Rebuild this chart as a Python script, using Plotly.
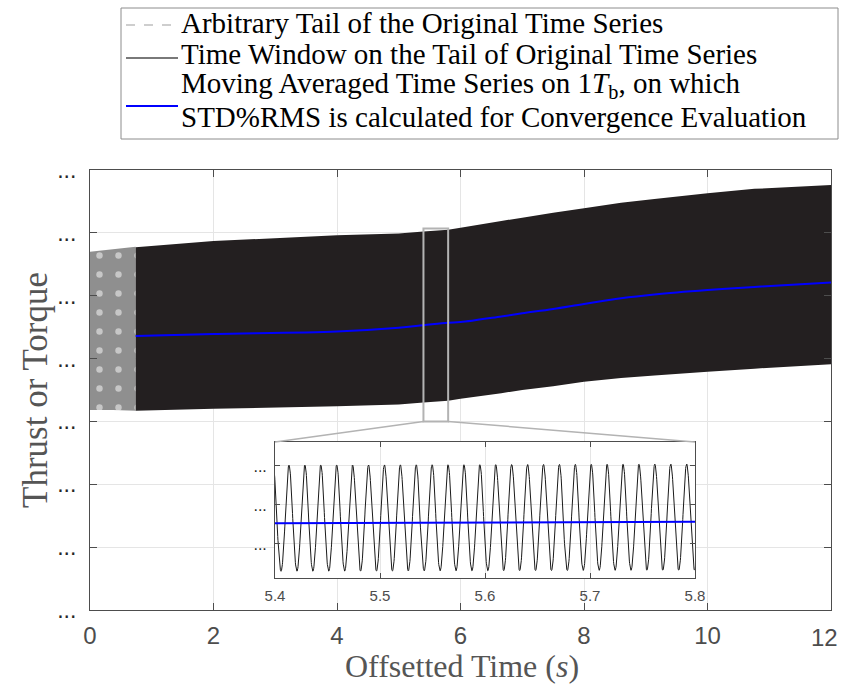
import numpy as np
import plotly.graph_objects as go

# ---- data (time in s, amplitude in axis units) ----
# arbitrary tail before the window
tail_t = [0.0, 0.37, 0.74]
tail_upper = [5.70, 5.74, 5.78]
tail_lower = [3.18, 3.18, 3.17]

# time window on the tail: envelope of the oscillation and its 1T_b moving average
win_t = [0.74, 2.0, 4.0, 5.0, 5.4, 5.8, 6.0, 6.66, 7.0, 7.5, 8.0, 8.6, 9.14, 10.0, 10.76, 12.0]
win_upper = [5.77, 5.87, 5.96, 5.99, 6.02, 6.05, 6.08, 6.19, 6.24, 6.32, 6.39, 6.48, 6.54, 6.63, 6.70, 6.76]
win_lower = [3.17, 3.20, 3.24, 3.27, 3.30, 3.33, 3.36, 3.45, 3.50, 3.56, 3.63, 3.69, 3.73, 3.79, 3.84, 3.91]
moving_avg = [4.36, 4.39, 4.43, 4.49, 4.53, 4.57, 4.58, 4.67, 4.72, 4.79, 4.87, 4.96, 5.02, 5.09, 5.14, 5.21]

# blade-passing oscillation seen in the zoomed window
blade_period = 0.01515      # s
first_peak = 5.4133         # s
zoom_t = [5.4, 5.8]
zoom_box_y = [3.0, 6.07]

x_ticks = [0, 2, 4, 6, 8, 10, 12]
x_tick_text = ["0", "2", "4", "6", "8", "10", "12"]
y_ticks = [0, 1, 2, 3, 4, 5, 6, 7]
inset_x_ticks = [5.4, 5.5, 5.6, 5.7, 5.8]
inset_y_ticks = [4, 5, 6]
dots = "..."

legend_labels = [
    "Arbitrary Tail of the Original Time Series",
    "Time Window on the Tail of Original Time Series",
    "Moving Averaged Time Series on 1<i>T</i><sub>b</sub>, on which",
    "STD%RMS is calculated for Convergence Evaluation",
]

# ---- layout geometry (pixels) ----
W, H = 841, 693
ML, MR, MT, MB = 90, 10, 170, 83
PW, PH = W - ML - MR, H - MT - MB
X_RANGE = [0, 12]
Y_RANGE = [0, 7]
INSET_Y_RANGE = [3.128, 6.615]


def px_x(p):
    return (p - ML) / PW


def px_y(p):
    return (H - MB - p) / PH


def data_to_paper(t, y):
    return ((t - X_RANGE[0]) / (X_RANGE[1] - X_RANGE[0]),
            (y - Y_RANGE[0]) / (Y_RANGE[1] - Y_RANGE[0]))


inset_dom_x = [px_x(275), px_x(695)]
inset_dom_y = [px_y(578), px_y(442)]

SERIF = "Liberation Serif"
SANS = "Liberation Sans"
AXIS_GREY = "#4d4d4d"
GRID = "#e5e5e5"
BAND = "#231f20"
BLUE = "#0000ff"
TICK_FONT = dict(family=SANS, size=24, color=AXIS_GREY)

fig = go.Figure()

# arbitrary tail: densely drawn dashed oscillation -> grey band
fig.add_trace(go.Scatter(
    x=tail_t + tail_t[::-1], y=tail_upper + tail_lower[::-1],
    fill="toself", mode="none", fillcolor="#8f8f8f",
    fillpattern=dict(shape=".", bgcolor="#8f8f8f", fgcolor="white",
                     size=19, solidity=0.09),
    showlegend=False, hoverinfo="skip", xaxis="x", yaxis="y"))

# time window: oscillation fills its envelope
fig.add_trace(go.Scatter(
    x=win_t + win_t[::-1], y=win_upper + win_lower[::-1],
    fill="toself", mode="none", fillcolor=BAND,
    showlegend=False, hoverinfo="skip", xaxis="x", yaxis="y"))

fig.add_trace(go.Scatter(
    x=win_t, y=moving_avg, mode="lines", line=dict(color=BLUE, width=2, shape="spline"),
    showlegend=False, hoverinfo="skip", xaxis="x", yaxis="y"))

# inset: the oscillation between its envelopes
t_sig = np.linspace(zoom_t[0] - 0.01, zoom_t[1] + 0.01, 2000)
up = np.interp(t_sig, win_t, win_upper)
lo = np.interp(t_sig, win_t, win_lower)
mid = np.interp(t_sig, win_t, moving_avg)
c = np.cos(2 * np.pi * (t_sig - first_peak) / blade_period)
sig = mid + (up - mid) * np.clip(c, 0, None) + (mid - lo) * np.clip(c, None, 0)

fig.add_trace(go.Scatter(
    x=t_sig, y=sig, mode="lines", line=dict(color="#1a1a1a", width=1),
    showlegend=False, hoverinfo="skip", xaxis="x2", yaxis="y2"))
fig.add_trace(go.Scatter(
    x=win_t, y=moving_avg, mode="lines", line=dict(color=BLUE, width=2, shape="spline"),
    showlegend=False, hoverinfo="skip", xaxis="x2", yaxis="y2"))

axis_common = dict(
    showline=True, linecolor=AXIS_GREY, linewidth=1, mirror="ticks",
    ticks="inside", tickcolor=AXIS_GREY, showgrid=True, gridcolor=GRID,
    gridwidth=1, zeroline=False, automargin=False)

fig.update_layout(
    width=W, height=H,
    margin=dict(l=ML, r=MR, t=MT, b=MB),
    paper_bgcolor="white", plot_bgcolor="white",
    showlegend=False,
    # the last x tick falls on the right frame; its label is placed separately
    xaxis=dict(range=X_RANGE, tickvals=x_ticks[:-1], ticktext=x_tick_text[:-1],
               ticklen=7, tickfont=TICK_FONT, ticklabelstandoff=4, **axis_common),
    yaxis=dict(range=Y_RANGE, tickvals=y_ticks, ticktext=[dots] * len(y_ticks),
               ticklen=7, tickfont=dict(family=SANS, size=23, color="#262626"),
               ticklabelstandoff=8, **axis_common),
    xaxis2=dict(domain=inset_dom_x, anchor="y2", range=zoom_t,
                tickvals=inset_x_ticks, ticktext=[f"{v:.1f}" for v in inset_x_ticks],
                ticklen=5, tickfont=dict(family=SANS, size=15, color=AXIS_GREY),
                ticklabelstandoff=4, **axis_common),
    yaxis2=dict(domain=inset_dom_y, anchor="x2", range=INSET_Y_RANGE,
                tickvals=inset_y_ticks, ticktext=[dots] * len(inset_y_ticks),
                ticklen=5, tickfont=dict(family=SANS, size=16, color="#262626"),
                ticklabelstandoff=4, **axis_common),
)

fig.add_annotation(text=x_tick_text[-1], xref="x", yref="paper",
                   x=x_ticks[-1], y=px_y(637), xanchor="right", yanchor="middle",
                   xshift=9, showarrow=False, font=TICK_FONT)

# zoom box on the main axes and its connectors to the inset
fig.add_shape(type="rect", xref="x", yref="y",
              x0=zoom_t[0], x1=zoom_t[1], y0=zoom_box_y[0], y1=zoom_box_y[1],
              line=dict(color="#b3b3b3", width=2))
bl = data_to_paper(zoom_t[0], zoom_box_y[0])
br = data_to_paper(zoom_t[1], zoom_box_y[0])
for (px0, py0), px1 in ((bl, inset_dom_x[0]), (br, inset_dom_x[1])):
    fig.add_shape(type="line", xref="paper", yref="paper",
                  x0=px0, y0=py0, x1=px1, y1=inset_dom_y[1],
                  line=dict(color="#b3b3b3", width=1.5))

# legend box
fig.add_shape(type="rect", xref="paper", yref="paper",
              x0=px_x(121), x1=px_x(838), y0=px_y(139), y1=px_y(8),
              line=dict(color="#8c8c8c", width=1), fillcolor="white")
legend_samples = [
    (25, dict(color="#bfbfbf", width=1.5, dash="dash")),
    (58, dict(color="#4d4d4d", width=1.5)),
    (106, dict(color=BLUE, width=2)),
]
for yy, ln in legend_samples:
    fig.add_shape(type="line", xref="paper", yref="paper",
                  x0=px_x(126), x1=px_x(178), y0=px_y(yy), y1=px_y(yy), line=ln)
for text, yy in zip(legend_labels, [23, 54, 85, 117]):
    fig.add_annotation(text=text, xref="paper", yref="paper",
                       x=px_x(179), y=px_y(yy), xanchor="left", yanchor="middle",
                       showarrow=False, font=dict(family=SERIF, size=29, color="black"))

# axis titles
fig.add_annotation(text="Offsetted Time (<i>s</i>)", xref="paper", yref="paper",
                   x=px_x(462), y=px_y(666), xanchor="center", yanchor="middle",
                   showarrow=False, font=dict(family=SERIF, size=32, color="#555555"))
fig.add_annotation(text="Thrust or Torque", xref="paper", yref="paper",
                   x=px_x(35), y=px_y(390), xanchor="center", yanchor="middle",
                   textangle=-90, showarrow=False,
                   font=dict(family=SERIF, size=35, color="#555555"))

fig.write_html("out.html")
